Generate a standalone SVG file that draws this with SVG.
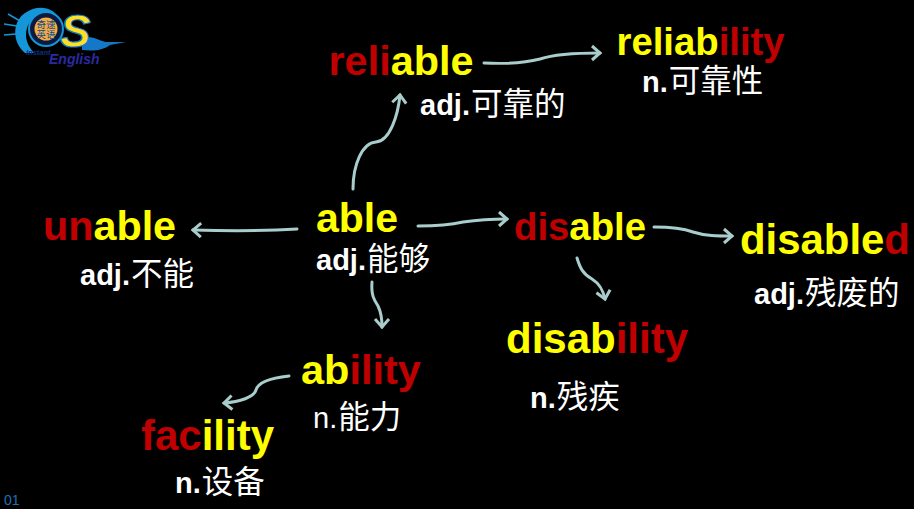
<svg xmlns="http://www.w3.org/2000/svg" width="914" height="509" viewBox="0 0 914 509">
<style>
text{font-family:"Liberation Sans","Noto Sans CJK SC",sans-serif;font-weight:bold}
.w{fill:#c00000}.y{fill:#ffff00}
.s{fill:#fff;font-size:29px}
.c{font-size:31.5px;font-weight:normal;font-family:"Noto Sans CJK SC",sans-serif}
.l{font-size:9.5px;font-weight:normal;font-family:"Noto Sans CJK SC",sans-serif;fill:#0b4a9a;text-anchor:middle}
.a{fill:none;stroke:#a9cccc;stroke-width:3;stroke-linecap:round;marker-end:url(#h)}
</style>
<defs>
<marker id="h" markerUnits="userSpaceOnUse" markerWidth="18" markerHeight="18" refX="13" refY="9" orient="auto">
<path d="M5 2L13 9L5 16" fill="none" stroke="#a9cccc" stroke-width="3"/>
</marker>
</defs>
<rect width="914" height="509" fill="#000"/>
<g id="logo">
<path d="M8 14L20 21M4 24L17 26M4 35L16 34" stroke="#1496d8" stroke-width="1.5" fill="none"/>
<path d="M25 53C12 42 12 22 25 13C38 4 54 7 60 20L55 27C50 14 32 12 27 28C24 38 28 46 34 53Z" fill="#1496d8"/>
<circle cx="46" cy="29" r="17" fill="#0a1a40"/>
<circle cx="46" cy="29" r="17" fill="none" stroke="#1496d8" stroke-width="2"/>
<circle cx="46" cy="29" r="11.5" fill="#f5ad3f"/>
<text x="46" y="27.500" class="l">奇速</text>
<text x="46" y="38" class="l">英语</text>
<path d="M82 38C92 34 100 42 108 42L126 42L110 45C102 51 92 51 82 50Z" fill="#1478c8"/>
<text x="60" y="47" font-size="46" fill="#ffe020" stroke="#1478c8" stroke-width="1.2" font-style="italic">S</text>
<text x="26" y="55" font-size="7.500" fill="#0a2f80" font-style="italic">Instant</text>
<text x="49" y="64" font-size="14" fill="#2a2aa0" font-style="italic">English</text>
</g>
<g id="connectors">
<path class="a" d="M353 189C353 165 362 143 376 142C390 141 398 115 400 95"/>
<path class="a" d="M484 63C505 64 525 63 540 59C555 54 580 53 600 53"/>
<path class="a" d="M297 229C265 231 230 231 193 230"/>
<path class="a" d="M418 226C435 226 450 225 463 222C477 220 490 219 507 219"/>
<path class="a" d="M654 227C670 227 682 228 693 232C705 236 718 236 732 236"/>
<path class="a" d="M577 258C580 268 583 274 592 279C600 284 603 290 605 299"/>
<path class="a" d="M372 282C371 295 374 300 378 306C381 312 382 318 382 327"/>
<path class="a" d="M289 376C270 378 258 382 256 390C254 397 240 402 224 403"/>
</g>
<g id="able"><text x="316" y="232" font-size="41" class="y">able</text><text x="316" y="270" class="s">adj.<tspan class="c" dx="1">能够</tspan></text></g>
<g id="reliable"><text x="328.500" y="75" font-size="41.4"><tspan class="w">reli</tspan><tspan class="y">able</tspan></text><text x="420" y="115" class="s">adj.<tspan class="c" dx="1">可靠的</tspan></text></g>
<g id="reliability"><text x="616.500" y="55" font-size="38.3"><tspan class="y">reliab</tspan><tspan class="w">ility</tspan></text><text x="642" y="92" class="s">n.<tspan class="c" dx="1">可靠性</tspan></text></g>
<g id="unable"><text x="43" y="240" font-size="41.3"><tspan class="w">un</tspan><tspan class="y">able</tspan></text><text x="80" y="285" class="s">adj.<tspan class="c" dx="1">不能</tspan></text></g>
<g id="disable"><text x="514" y="240" font-size="38.3"><tspan class="w">dis</tspan><tspan class="y">able</tspan></text></g>
<g id="disabled"><text x="740" y="254" font-size="41.9"><tspan class="y">disable</tspan><tspan class="w">d</tspan></text><text x="754" y="304" class="s">adj.<tspan class="c" dx="1">残废的</tspan></text></g>
<g id="disability"><text x="506" y="353" font-size="42"><tspan class="y">disab</tspan><tspan class="w">ility</tspan></text><text x="530" y="408" class="s">n.<tspan class="c" dx="1">残疾</tspan></text></g>
<g id="ability"><text x="301" y="384" font-size="41.5"><tspan class="y">ab</tspan><tspan class="w">ility</tspan></text><text x="313" y="428" class="s" style="font-weight:normal">n.<tspan class="c" dx="1">能力</tspan></text></g>
<g id="facility"><text x="141" y="450" font-size="42"><tspan class="w">fac</tspan><tspan class="y">ility</tspan></text><text x="175" y="493" class="s">n.<tspan class="c" dx="1">设备</tspan></text></g>
<text id="page" x="4" y="505" font-size="14" fill="#1f6fb5" style="font-weight:normal">01</text>
</svg>
